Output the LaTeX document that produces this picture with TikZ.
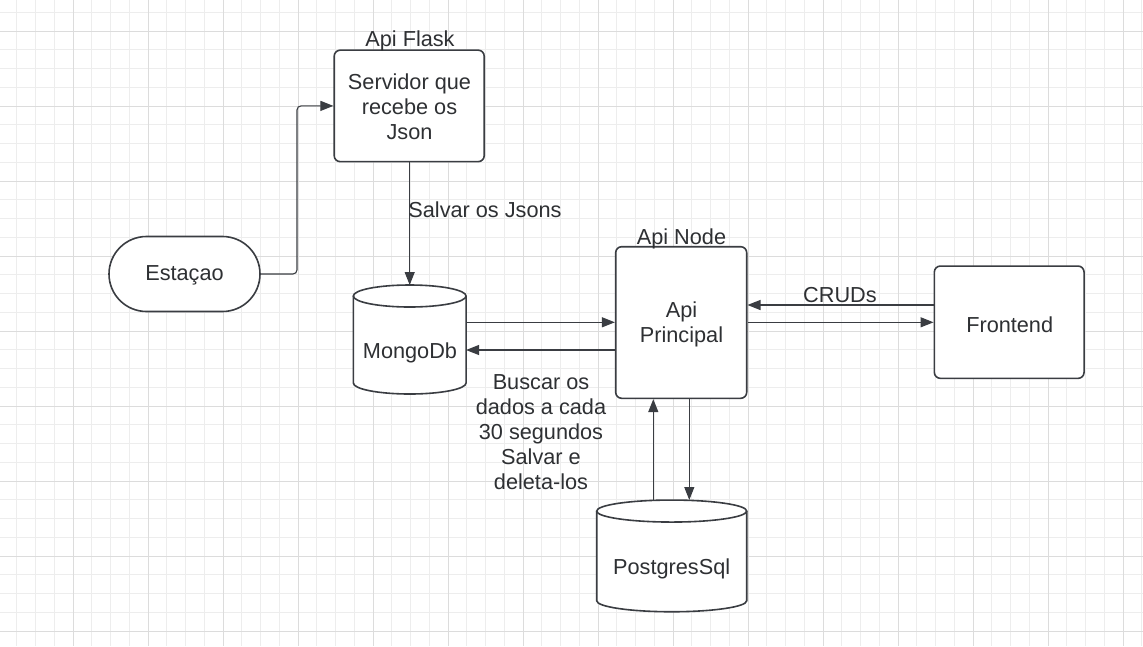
\documentclass[tikz,border=0pt]{standalone}
\usepackage{fontspec}
\setmainfont{Liberation Sans}
\usetikzlibrary{arrows.meta,shapes.misc}
\definecolor{ink}{HTML}{3A3D42}
\definecolor{txtc}{HTML}{2E3033}
\definecolor{gminor}{HTML}{EDEDED}
\definecolor{gmajor}{HTML}{DCDCDC}
\tikzset{
  shapeline/.style={draw=ink,line width=1.6pt},
  boxnode/.style={shapeline,rounded corners=6pt,inner sep=0pt,fill=white},
  blank/.style={inner sep=0pt,outer sep=0pt},
  txt/.style={text=txtc,font=\fontsize{21.7}{25}\selectfont,align=center,inner sep=0pt},
  conn/.style={draw=ink,line width=1.1pt,-{Triangle[length=13pt,width=10pt]}},
}
\newcommand\drawcyl[2]{%
  \fill[white] ([yshift=-11pt]#1.north west) -- ([yshift=11pt]#1.south west)
     arc[start angle=180,end angle=360,x radius=#2pt,y radius=11pt]
     -- ([yshift=-11pt]#1.north east) arc[start angle=0,end angle=180,x radius=#2pt,y radius=11pt] -- cycle;
  \draw[shapeline] ([yshift=-11pt]#1.north west) -- ([yshift=11pt]#1.south west)
     arc[start angle=180,end angle=360,x radius=#2pt,y radius=11pt]
     -- ([yshift=-11pt]#1.north east);
  \draw[shapeline] ([yshift=-11pt]#1.north) ellipse[x radius=#2pt,y radius=11pt];
}
\begin{document}
\begin{tikzpicture}[x=1pt,y=-1pt]
\useasboundingbox (0,0) rectangle (1143,646);
\fill[white] (0,0) rectangle (1143,646);
% grid
\foreach \i in {0,...,60} \draw[gminor,line width=0.9pt] ({16.75+18.75*\i},0) -- ++(0,646);
\foreach \i in {0,...,33} \draw[gminor,line width=0.9pt] (0,{12.25+18.75*\i}) -- ++(1143,0);
\foreach \i in {0,...,14} \draw[gmajor,line width=0.9pt] ({73+75*\i},0) -- ++(0,646);
\foreach \i in {0,...,8} \draw[gmajor,line width=0.9pt] (0,{31+75*\i}) -- ++(1143,0);

% nodes
\node[boxnode,minimum width=150pt,minimum height=111.5pt] (flask) at (409.2,105.9) {};
\node[txt] at (409.5,107) {Servidor que\\recebe os\\Json};
\node[txt] (flasklbl) at (410,40.5) {Api Flask};

\node[shapeline,rounded rectangle,minimum width=151pt,minimum height=75pt,inner sep=0pt,fill=white] (est) at (184.5,274) {};
\node[txt] at (184.5,275) {Estaçao};

\node[blank,minimum width=112.7pt,minimum height=109pt] (mongo) at (409.7,339.5) {};
\drawcyl{mongo}{56.35}
\node[txt] at (410,353) {MongoDb};

\node[boxnode,minimum width=131pt,minimum height=151.6pt] (api) at (681.2,322.5) {};
\node[txt] at (681.5,324) {Api\\Principal};
\node[txt] (apilbl) at (681.5,239) {Api Node};

\node[boxnode,minimum width=149.7pt,minimum height=112.3pt] (front) at (1009.2,322.2) {};
\node[txt] at (1009.7,324.5) {Frontend};

\node[blank,minimum width=150pt,minimum height=111.7pt] (pg) at (671.7,555.9) {};
\drawcyl{pg}{75}
\node[txt] at (671.7,568.5) {PostgresSql};

% connectors
\draw[conn,rounded corners=4pt] (est.east) -- (297,274) |- (flask.west);
\draw[conn] (flask.south -| 409.7,0) -- (mongo.north);
\node[txt] at (485,210) {Salvar os Jsons};

\draw[conn] (mongo.east |- 0,322.3) -- (api.west |- 0,322.3);
\draw[conn] (api.west |- 0,350) -- (mongo.east |- 0,350);
\node[txt] at (541,432) {Buscar os\\dados a cada\\30 segundos\\Salvar e\\deleta-los};

\draw[conn] (front.west |- 0,305) -- (api.east |- 0,305);
\draw[conn] (api.east |- 0,322.3) -- (front.west |- 0,322.3);
\node[txt] at (840,295) {CRUDs};

\draw[conn] (653.3,500.3) -- (api.south -| 653.3,0);
\draw[conn] (api.south -| 689.3,0) -- (689.3,500);
\end{tikzpicture}
\end{document}
